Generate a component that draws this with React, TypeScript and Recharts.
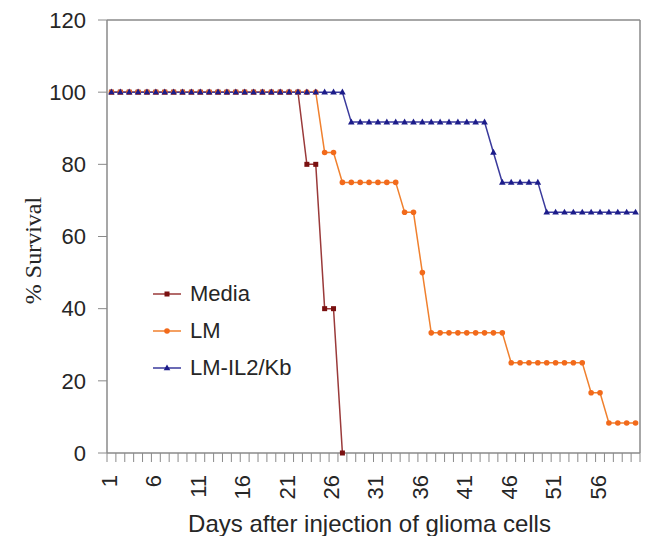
// Kaplan-Meier style survival curves after glioma cell injection.

import { LineChart, Line, XAxis, YAxis, Legend, ReferenceLine } from "recharts";

const days = [
  1, 2, 3, 4, 5, 6, 7, 8, 9, 10, 11, 12, 13, 14, 15, 16, 17, 18, 19, 20,
  21, 22, 23, 24, 25, 26, 27, 28, 29, 30, 31, 32, 33, 34, 35, 36, 37, 38, 39, 40,
  41, 42, 43, 44, 45, 46, 47, 48, 49, 50, 51, 52, 53, 54, 55, 56, 57, 58, 59, 60,
];

const media = [
  100, 100, 100, 100, 100, 100, 100, 100, 100, 100, 100, 100, 100, 100, 100, 100, 100, 100, 100, 100,
  100, 100, 80, 80, 40, 40, 0, null, null, null, null, null, null, null, null, null, null, null, null, null,
  null, null, null, null, null, null, null, null, null, null, null, null, null, null, null, null, null, null, null, null,
];

const lm = [
  100, 100, 100, 100, 100, 100, 100, 100, 100, 100, 100, 100, 100, 100, 100, 100, 100, 100, 100, 100,
  100, 100, 100, 100, 83.3, 83.3, 75, 75, 75, 75, 75, 75, 75, 66.7, 66.7, 50, 33.3, 33.3, 33.3, 33.3,
  33.3, 33.3, 33.3, 33.3, 33.3, 25, 25, 25, 25, 25, 25, 25, 25, 25, 16.7, 16.7, 8.3, 8.3, 8.3, 8.3,
];

const lmIl2Kb = [
  100, 100, 100, 100, 100, 100, 100, 100, 100, 100, 100, 100, 100, 100, 100, 100, 100, 100, 100, 100,
  100, 100, 100, 100, 100, 100, 100, 91.7, 91.7, 91.7, 91.7, 91.7, 91.7, 91.7, 91.7, 91.7, 91.7, 91.7, 91.7, 91.7,
  91.7, 91.7, 91.7, 83.3, 75, 75, 75, 75, 75, 66.7, 66.7, 66.7, 66.7, 66.7, 66.7, 66.7, 66.7, 66.7, 66.7, 66.7,
];

const dayTicks = [1, 6, 11, 16, 21, 26, 31, 36, 41, 46, 51, 56];
const survivalTicks = [0, 20, 40, 60, 80, 100, 120];

const series = [
  { key: "media", name: "Media", line: "#9a3a3a", fill: "#7a1010", marker: "square" },
  { key: "lm", name: "LM", line: "#f0802e", fill: "#f26a1b", marker: "circle" },
  { key: "il2", name: "LM-IL2/Kb", line: "#3a3a9c", fill: "#1c1c8a", marker: "triangle" },
];

const data = days.map((day, i) => ({
  day,
  media: media[i],
  lm: lm[i],
  il2: lmIl2Kb[i],
}));

// Excel-style category axis: tick marks sit on the boundaries between days,
// labels sit on the day itself (half a category to the right of the boundary)
const xDomain = [days[0] - 0.5, days[days.length - 1] + 0.5];
const boundaryTicks = [...days.map((d) => d - 0.5), xDomain[1]];

const AXIS = "#8a8a8a";
const TEXT = "#262626";
const FONT = "'Liberation Sans', Arial, sans-serif";

function Marker({ cx, cy, shape, color }: any) {
  if (cx == null || cy == null) return <g />;
  if (shape === "square")
    return <rect x={cx - 2.5} y={cy - 2.5} width={5} height={5} fill={color} />;
  if (shape === "circle") return <circle cx={cx} cy={cy} r={2.8} fill={color} />;
  return (
    <path
      d={`M${cx},${cy - 3.6}L${cx + 3.3},${cy + 2.3}L${cx - 3.3},${cy + 2.3}Z`}
      fill={color}
    />
  );
}

function DayTick({ x, y, width, payload }: any) {
  const day = payload.value + 0.5;
  if (!dayTicks.includes(day)) return <g />;
  const halfDay = width / (xDomain[1] - xDomain[0]) / 2;
  const tx = x + halfDay - 2;
  return (
    <text
      x={tx}
      y={y}
      transform={`rotate(-90, ${tx}, ${y})`}
      textAnchor="end"
      dominantBaseline="central"
      fontSize={22}
      fill={TEXT}
      fontFamily={FONT}
    >
      {day}
    </text>
  );
}

function LegendBox() {
  return (
    <div style={{ fontFamily: FONT, fontSize: 22, color: TEXT }}>
      {series.map((s) => (
        <div key={s.key} style={{ display: "flex", alignItems: "center", height: 37 }}>
          <svg width={32} height={12} style={{ marginRight: 5 }}>
            <line x1={0} y1={6} x2={28} y2={6} stroke={s.line} strokeWidth={1.5} />
            <Marker cx={14} cy={6} shape={s.marker} color={s.fill} />
          </svg>
          <span>{s.name}</span>
        </div>
      ))}
    </div>
  );
}

export default function App() {
  return (
    <div style={{ position: "absolute", left: 0, top: 0 }}>
      <LineChart
        width={659}
        height={536}
        data={data}
        margin={{ top: 20, right: 19, bottom: 0, left: 0 }}
        style={{ fontFamily: FONT }}
      >
        <XAxis
          dataKey="day"
          type="number"
          domain={xDomain}
          ticks={boundaryTicks}
          interval={0}
          height={83}
          tickSize={9}
          tickMargin={13}
          tickLine={{ stroke: AXIS }}
          axisLine={{ stroke: AXIS, strokeWidth: 1.5 }}
          tick={<DayTick />}
          label={({ viewBox }: any) => (
            <text
              x={viewBox.x + viewBox.width / 2 - 4}
              y={viewBox.y + 70}
              textAnchor="middle"
              dominantBaseline="central"
              fontSize={24}
              fill={TEXT}
              fontFamily={FONT}
            >
              Days after injection of glioma cells
            </text>
          )}
        />
        <YAxis
          domain={[0, 120]}
          ticks={survivalTicks}
          interval={0}
          width={107}
          tickSize={9}
          tickMargin={12}
          tick={{ fontSize: 22, fill: TEXT, fontFamily: FONT }}
          tickLine={{ stroke: AXIS }}
          axisLine={{ stroke: AXIS, strokeWidth: 1.5 }}
          label={({ viewBox }: any) => {
            const cx = viewBox.x + 33;
            const cy = viewBox.y + viewBox.height / 2 + 14;
            return (
              <text
                x={cx}
                y={cy}
                transform={`rotate(-90, ${cx}, ${cy})`}
                textAnchor="middle"
                dominantBaseline="central"
                fontSize={24}
                fill={TEXT}
                fontFamily="'Liberation Serif', 'Times New Roman', serif"
              >
                % Survival
              </text>
            );
          }}
        />
        <ReferenceLine y={120} stroke={AXIS} strokeWidth={1.5} />
        <ReferenceLine x={xDomain[1]} stroke={AXIS} strokeWidth={1.5} />
        <Legend
          layout="vertical"
          align="center"
          verticalAlign="middle"
          content={() => <LegendBox />}
          wrapperStyle={{ left: 153, top: 275, width: 200 }}
        />
        {series.map((s) => (
          <Line
            key={s.key}
            dataKey={s.key}
            name={s.name}
            type="linear"
            stroke={s.line}
            strokeWidth={1.5}
            isAnimationActive={false}
            dot={(p: any) => (
              <Marker
                key={`${s.key}-${p.index}`}
                cx={p.cx}
                cy={p.cy}
                shape={s.marker}
                color={s.fill}
              />
            )}
            activeDot={false}
          />
        ))}
      </LineChart>
    </div>
  );
}
